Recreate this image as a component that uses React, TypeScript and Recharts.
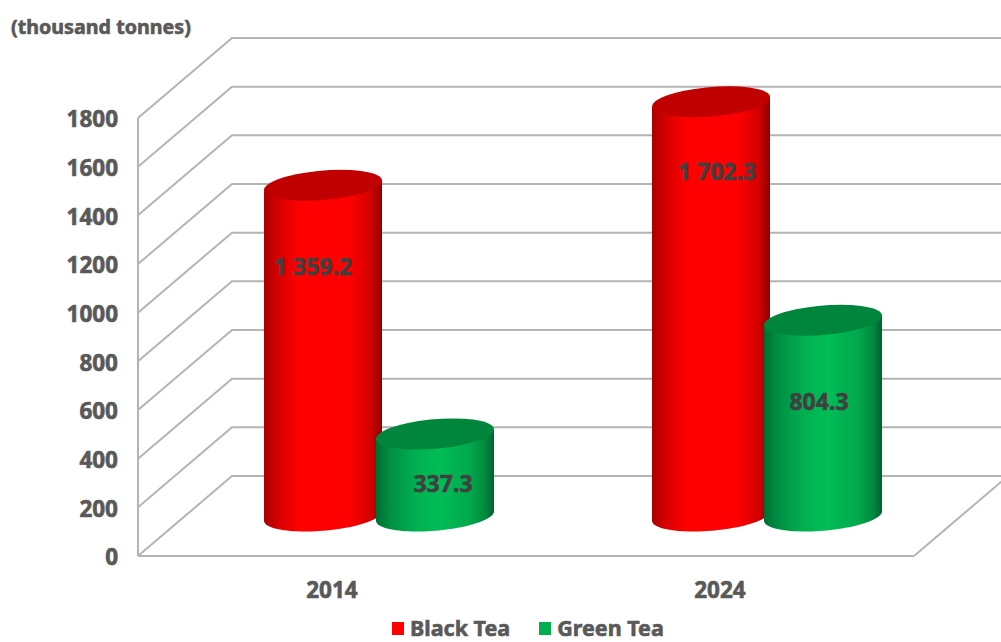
import React from "react";
import { BarChart, Bar, XAxis, YAxis, CartesianGrid, Legend, LabelList } from "recharts";

const years = ["2014", "2024"];
const blackTea = [1359.2, 1702.3];
const greenTea = [337.3, 804.3];
const yTicks = [0, 200, 400, 600, 800, 1000, 1200, 1400, 1600, 1800];

const rows = years.map((year, i) => ({ year, black: blackTea[i], green: greenTea[i] }));

const FONT = '"Noto Sans", sans-serif';
const AXIS_SIZE = 22.5;
const LABEL_SIZE = 23;
const LEGEND_SIZE = 21.5;
const TITLE_SIZE = 19.7;
const TEXT = "#595959";
const LABEL = "#404040";
const GRID = "#b4b4b4";
const TEXT_WEIGHT = 0.6;

// Projection of the chart's depth: back wall relative to the front plane.
const WALL_DX = 94;
const WALL_DY = -80;
// Bars stand halfway between the front plane and the back wall.
const BAR_DX = WALL_DX / 2;
const BAR_DY = WALL_DY / 2;

// Skewed circle of the cylinder caps: horizontal extent comes from the bar width.
const CAP_SHEAR = 18;
const CAP_HEIGHT = 15.5;

function Cylinder(props: any) {
  const { x, y, width, height, gradient, capFill } = props;
  const cx = x + width / 2 + BAR_DX;
  const top = y + BAR_DY;
  const bottom = y + height + BAR_DY;
  const R = width / 2;
  const A = Math.sqrt(R * R - CAP_SHEAR * CAP_SHEAR);
  const t0 = Math.atan2(CAP_SHEAR, A);
  const tilt = CAP_HEIGHT * Math.sin(t0);

  const edge: string[] = [];
  for (let i = 0; i <= 48; i++) {
    const t = Math.PI + t0 + (i / 48) * Math.PI;
    const px = cx + A * Math.cos(t) + CAP_SHEAR * Math.sin(t);
    const py = bottom - CAP_HEIGHT * Math.sin(t);
    edge.push(`L${px.toFixed(2)} ${py.toFixed(2)}`);
  }
  const body = `M${cx - R} ${top + tilt} ${edge.join(" ")} L${cx + R} ${top - tilt} Z`;

  return (
    <g>
      <path d={body} fill={`url(#${gradient})`} />
      <g transform={`matrix(${A} 0 ${CAP_SHEAR} ${-CAP_HEIGHT} ${cx} ${top})`}>
        <circle cx={0} cy={0} r={1} fill={capFill} />
      </g>
    </g>
  );
}

const formatValue = (v: number) => {
  const [whole, frac] = v.toFixed(1).split(".");
  return `${whole.replace(/\B(?=(\d{3})+$)/g, " ")}.${frac}`;
};

// Hand-placed value labels, per category, relative to the top of each cylinder.
const blackLabelShift = [
  { dx: -10, dy: 81 },
  { dx: 6, dy: 69 },
];
const greenLabelShift = [
  { dx: 8, dy: 49 },
  { dx: -4, dy: 81 },
];

const makeValueLabel = (shifts: { dx: number; dy: number }[]) => (props: any) => {
  const { x, y, width, value, index } = props;
  const s = shifts[index];
  return (
    <text
      x={x + width / 2 + BAR_DX + s.dx}
      y={y + BAR_DY + s.dy}
      textAnchor="middle"
      dominantBaseline="central"
      fontFamily={FONT}
      fontWeight={700}
      fontSize={LABEL_SIZE}
      fill={LABEL}
      stroke={LABEL}
      strokeWidth={TEXT_WEIGHT}
    >
      {formatValue(value)}
    </text>
  );
};

function WallLine(props: any) {
  const { x1, y1, x2, index } = props;
  const backY = y1 + WALL_DY;
  return (
    <g key={index}>
      <polyline
        points={`${x1},${y1} ${x1 + WALL_DX},${backY} ${x2 + WALL_DX},${backY}`}
        fill="none"
        stroke={GRID}
        strokeWidth={2}
      />
      {/* The floor's right edge only starts from the baseline. */}
      {y1 > 540 ? (
        <line x1={x2} y1={y1} x2={x2 + WALL_DX} y2={backY} stroke={GRID} strokeWidth={2} />
      ) : null}
    </g>
  );
}

function LegendRow(props: any) {
  const { payload = [] } = props;
  return (
    <div style={{ display: "flex", alignItems: "center", fontFamily: FONT, fontWeight: 700, fontSize: LEGEND_SIZE, color: TEXT, lineHeight: "22px", WebkitTextStroke: `${TEXT_WEIGHT}px ${TEXT}` }}>
      {payload.map((entry: any) => (
        <div key={entry.value} style={{ display: "flex", alignItems: "center", marginRight: 29 }}>
          <span style={{ display: "inline-block", width: 12, height: 13, background: entry.color, marginRight: 6 }} />
          <span>{entry.value}</span>
        </div>
      ))}
    </div>
  );
}

const xTick = { fontFamily: FONT, fontWeight: 700, fontSize: AXIS_SIZE, fill: TEXT, stroke: TEXT, strokeWidth: TEXT_WEIGHT };
const yTick = { ...xTick, dy: 1.5 };

export default function App() {
  return (
    <div style={{ position: "absolute", left: 0, top: 0, width: 1001, height: 642, overflow: "hidden", background: "#fff" }}>
      <div style={{ position: "absolute", left: 11, top: 13, fontFamily: FONT, fontWeight: 700, fontSize: TITLE_SIZE, color: TEXT, whiteSpace: "nowrap", WebkitTextStroke: `${TEXT_WEIGHT}px ${TEXT}` }}>
        (thousand tonnes)
      </div>
      <BarChart
        width={1001}
        height={642}
        data={rows}
        margin={{ top: 118, right: 87, bottom: 0, left: 0 }}
        barSize={118}
        barGap={-6}
        style={{ overflow: "hidden" }}
      >
        <defs>
          <linearGradient id="blackBody" x1="0" y1="0" x2="1" y2="0">
            <stop offset="0" stopColor="#a80000" />
            <stop offset="0.12" stopColor="#d60000" />
            <stop offset="0.3" stopColor="#ff0000" />
            <stop offset="0.72" stopColor="#ff0000" />
            <stop offset="0.9" stopColor="#d40000" />
            <stop offset="1" stopColor="#8e0000" />
          </linearGradient>
          <linearGradient id="greenBody" x1="0" y1="0" x2="1" y2="0">
            <stop offset="0" stopColor="#006e32" />
            <stop offset="0.12" stopColor="#008f44" />
            <stop offset="0.35" stopColor="#00b251" />
            <stop offset="0.55" stopColor="#00bd56" />
            <stop offset="0.8" stopColor="#00a84c" />
            <stop offset="0.92" stopColor="#008a3f" />
            <stop offset="1" stopColor="#006230" />
          </linearGradient>
        </defs>
        <CartesianGrid vertical={false} horizontal={WallLine as any} />
        <XAxis
          dataKey="year"
          height={86}
          axisLine={{ stroke: GRID, strokeWidth: 2 }}
          tickLine={false}
          tickMargin={20}
          tick={xTick}
        />
        <YAxis
          width={138}
          domain={[0, 1800]}
          ticks={yTicks}
          interval={0}
          axisLine={{ stroke: GRID, strokeWidth: 2 }}
          tickLine={false}
          tickSize={0}
          tickMargin={20}
          tick={yTick}
        />
        <Legend
          layout="horizontal"
          verticalAlign="middle"
          align="center"
          content={<LegendRow />}
          wrapperStyle={{ position: "absolute", left: 392, top: 617, width: 320, height: 22 }}
        />
        <Bar
          dataKey="black"
          name="Black Tea"
          fill="#ff0000"
          isAnimationActive={false}
          shape={(p: any) => <Cylinder {...p} gradient="blackBody" capFill="#c00000" />}
        >
          <LabelList dataKey="black" content={makeValueLabel(blackLabelShift) as any} />
        </Bar>
        <Bar
          dataKey="green"
          name="Green Tea"
          fill="#00b050"
          isAnimationActive={false}
          shape={(p: any) => <Cylinder {...p} gradient="greenBody" capFill="#00863c" />}
        >
          <LabelList dataKey="green" content={makeValueLabel(greenLabelShift) as any} />
        </Bar>
      </BarChart>
    </div>
  );
}
